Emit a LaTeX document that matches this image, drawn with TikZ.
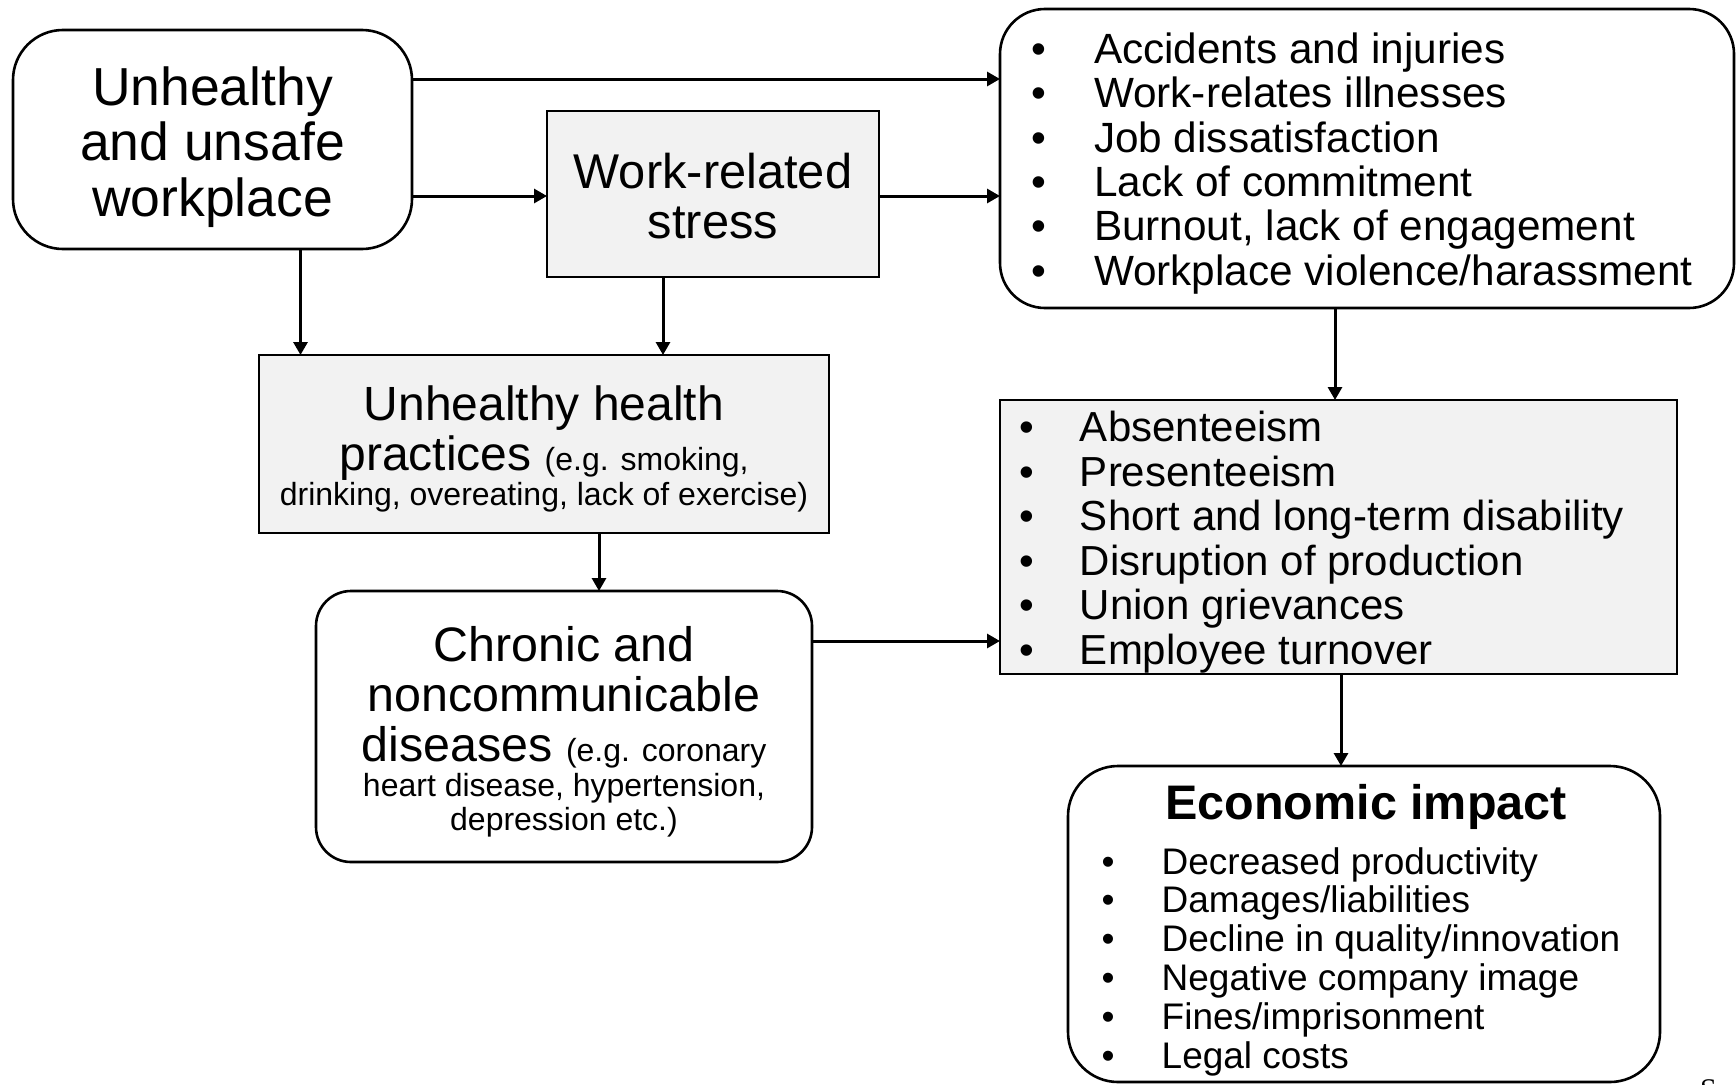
\documentclass[tikz,border=0pt]{standalone}
\usepackage{fontspec}
\setmainfont{Liberation Sans}
\newfontfamily\serifface{Liberation Serif}
\usetikzlibrary{arrows.meta}
\definecolor{boxgray}{RGB}{242,242,242}
\newlength\bulletgap
\newcommand{\itm}{\makebox[\bulletgap][l]{•}}
\begin{document}
\begin{tikzpicture}[x=1pt,y=-1pt,
  frame/.style={draw=black, line width=2.6pt, inner sep=0pt, outer sep=0pt},
  roundbox/.style={frame, rounded corners=#1, fill=white},
  graybox/.style={frame, fill=boxgray},
  arr/.style={line width=3pt, -{Triangle[length=13pt,width=14pt]}},
  txt/.style={inner sep=0pt, outer sep=0pt, anchor=base}]

\fill[white] (0,0) rectangle (1736,1084);
\useasboundingbox (0,0) rectangle (1736,1084);

% boxes
\node[roundbox=50pt, minimum width=399pt, minimum height=219pt] (A) at (212.5,139.5) {};
\node[graybox, minimum width=332pt, minimum height=166pt] (B) at (713,194) {};
\node[roundbox=45pt, minimum width=734pt, minimum height=299pt] (C) at (1367,158.5) {};
\node[graybox, minimum width=570pt, minimum height=178pt] (D) at (544,444) {};
\node[graybox, minimum width=677pt, minimum height=274pt] (E) at (1338.5,537) {};
\node[roundbox=35pt, minimum width=496pt, minimum height=271pt] (F) at (564,726.5) {};
\node[roundbox=50pt, minimum width=592pt, minimum height=316pt] (G) at (1364,924) {};

% box texts
\node[txt] (At) at (212.5,105) {\fontsize{53.5}{55.5}\selectfont
  \begin{tabular}[t]{@{}c@{}}Unhealthy\\and unsafe\\workplace\end{tabular}};
\node[txt] (Bt) at (713,188) {\fontsize{48.8}{50}\selectfont
  \begin{tabular}[t]{@{}c@{}}Work-related\\stress\end{tabular}};
\node[txt] (Dt) at (544,420) {\fontsize{48}{50}\selectfont
  \begin{tabular}[t]{@{}c@{}}Unhealthy health\\
  practices {\fontsize{32}{34}\selectfont (e.g. smoking,}\\[-14.5pt]
  {\fontsize{32}{34}\selectfont drinking, overeating, lack of exercise)}\end{tabular}};
\node[txt] (Ft) at (564,661) {\fontsize{48.4}{50}\selectfont
  \begin{tabular}[t]{@{}c@{}}Chronic and\\noncommunicable\\
  diseases {\fontsize{32}{34}\selectfont (e.g. coronary}\\[-14.5pt]
  {\fontsize{32}{34}\selectfont heart disease, hypertension,}\\[-16pt]
  {\fontsize{32}{34}\selectfont depression etc.)}\end{tabular}};

\node[txt, anchor=base west] (Ct) at (1031,63.5) {\fontsize{42.3}{44.3}\selectfont
  \setlength\bulletgap{63pt}%
  \begin{tabular}[t]{@{}l@{}}
  \itm Accidents and injuries\\
  \itm Work-relates illnesses\\
  \itm Job dissatisfaction\\
  \itm Lack of commitment\\
  \itm Burnout, lack of engagement\\
  \itm Workplace violence/harassment
  \end{tabular}};
\node[txt, anchor=base west] (Et) at (1019,441.5) {\fontsize{42}{44.6}\selectfont
  \setlength\bulletgap{61pt}%
  \begin{tabular}[t]{@{}l@{}}
  \itm Absenteeism\\
  \itm Presenteeism\\
  \itm Short and long-term disability\\
  \itm Disruption of production\\
  \itm Union grievances\\
  \itm Employee turnover
  \end{tabular}};
\node[txt] (Gh) at (1366,819.5) {\fontsize{48.5}{50}\selectfont\bfseries Economic impact};
\node[txt, anchor=base west] (Gt) at (1101.7,874) {\fontsize{37}{38.8}\selectfont
  \setlength\bulletgap{60pt}%
  \begin{tabular}[t]{@{}l@{}}
  \itm Decreased productivity\\
  \itm Damages/liabilities\\
  \itm Decline in quality/innovation\\
  \itm Negative company image\\
  \itm Fines/imprisonment\\
  \itm Legal costs
  \end{tabular}};
\node[txt, anchor=base west] (src) at (1700,1099) {\serifface\fontsize{30}{30}\selectfont S};

% connector levels
\coordinate (h1) at (0,79);
\coordinate (h2) at (0,196);
\coordinate (h3) at (0,641);
\coordinate (v1) at (300.5,0);
\coordinate (v2) at (663,0);
\coordinate (v3) at (1335,0);
\coordinate (v4) at (599,0);
\coordinate (v5) at (1341,0);

% connectors
\draw[arr] (A.east |- h1) -- (C.west |- h1);
\draw[arr] (A.east |- h2) -- (B.west |- h2);
\draw[arr] (B.east |- h2) -- (C.west |- h2);
\draw[arr] (A.south -| v1) -- (D.north -| v1);
\draw[arr] (B.south -| v2) -- (D.north -| v2);
\draw[arr] (C.south -| v3) -- (E.north -| v3);
\draw[arr] (D.south -| v4) -- (F.north -| v4);
\draw[arr] (F.east |- h3) -- (E.west |- h3);
\draw[arr] (E.south -| v5) -- (G.north -| v5);
\end{tikzpicture}
\end{document}
